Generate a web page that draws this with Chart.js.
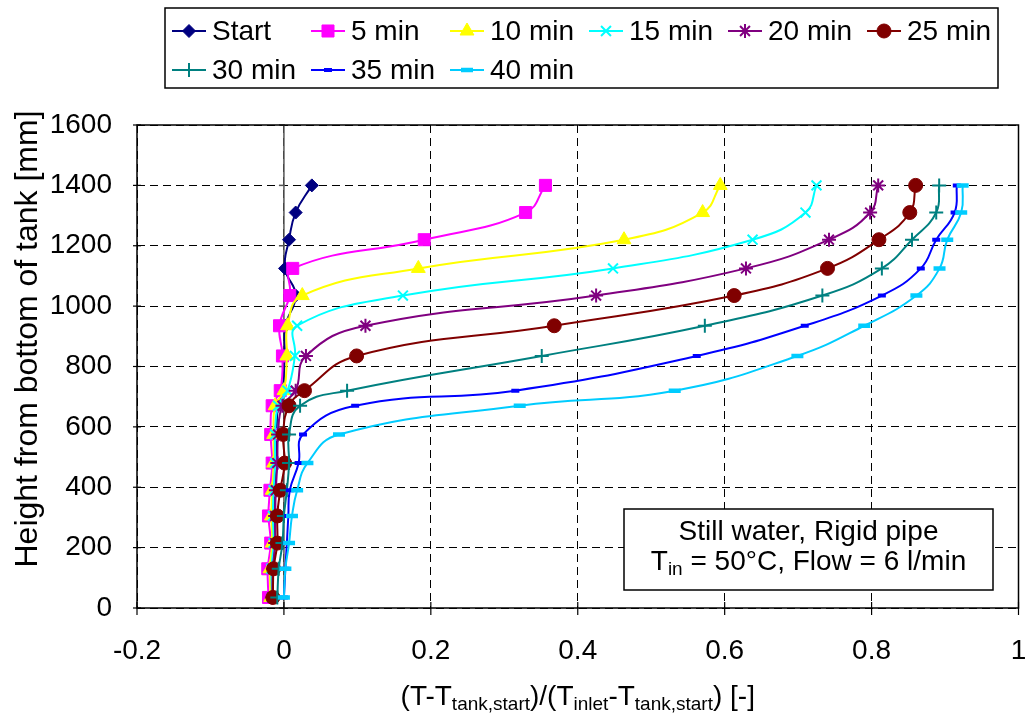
<!DOCTYPE html>
<html><head><meta charset="utf-8">
<script src="https://cdn.jsdelivr.net/npm/chart.js@4.4.1/dist/chart.umd.min.js"></script>
<style>html,body{margin:0;padding:0;background:#fff;overflow:hidden}#wrap{width:1029px;height:716px;position:relative}</style>
</head><body><div id="wrap"><canvas id="c" width="1029" height="716"></canvas></div>
<script>
// ---- data ----
const heights = [1400,1310,1220,1125,1035,935,835,720,670,575,480,390,305,215,130,35];
const seriesNames = ['Start','5 min','10 min','15 min','20 min','25 min','30 min','35 min','40 min'];
const startVals = [0.038,0.016,0.007,0.0015,0.016,0.002,0.001,-0.002,-0.008,-0.010,-0.010,-0.012,-0.012,-0.013,-0.015,-0.015];
const min5Vals  = [0.356,0.329,0.191,0.012,0.008,-0.006,-0.002,-0.005,-0.016,-0.018,-0.016,-0.019,-0.021,-0.018,-0.022,-0.021];
const min10Vals = [0.594,0.570,0.463,0.183,0.025,0.005,0.004,0.000,-0.012,-0.014,-0.014,-0.016,-0.017,-0.016,-0.019,-0.018];
const min15Vals = [0.725,0.710,0.638,0.448,0.162,0.018,0.015,0.005,-0.008,-0.012,-0.012,-0.014,-0.015,-0.014,-0.017,-0.016];
const min20Vals = [0.809,0.798,0.742,0.629,0.425,0.111,0.030,0.016,-0.002,-0.008,-0.009,-0.011,-0.012,-0.012,-0.015,-0.016];
const min25Vals = [0.860,0.852,0.810,0.740,0.613,0.368,0.099,0.028,0.007,-0.001,0.001,-0.005,-0.009,-0.009,-0.014,-0.015];
const min30Vals = [0.892,0.888,0.855,0.814,0.733,0.573,0.351,0.086,0.022,0.007,0.007,0.004,0.000,-0.002,-0.007,-0.009];
const min35Vals = [0.916,0.913,0.888,0.867,0.814,0.709,0.562,0.315,0.097,0.026,0.020,0.008,0.006,0.004,0.002,0.000];
const min40Vals = [0.924,0.922,0.903,0.8925,0.861,0.790,0.699,0.532,0.321,0.075,0.032,0.018,0.011,0.007,0.002,0.000];
const xTickVals = [-0.2,0,0.2,0.4,0.6,0.8,1];
const yTickVals = [0,200,400,600,800,1000,1200,1400,1600];
const xTitleParts = [['(T-T',0],['tank,start',1],[')/(T',0],['inlet',1],['-T',0],['tank,start',1],[') [-]',0]];
const yTitle = 'Height from bottom of tank [mm]';
const noteLine1 = [['Still water, Rigid pipe',0]];
const noteLine2 = [['T',0],['in',1],[' = 50°C, Flow = 6 l/min',0]];

// ---- styles ----
const FONT = "'Liberation Sans', Arial, sans-serif";
const allVals = [startVals,min5Vals,min10Vals,min15Vals,min20Vals,min25Vals,min30Vals,min35Vals,min40Vals];
const styles = [
  {c:'#000080', ps:'rectRot', r:6.5, bw:1},
  {c:'#FF00FF', ps:'rect', r:8.5, bw:1},
  {c:'#FFFF00', ps:'triangle', r:8, bw:1},
  {c:'#00FFFF', ps:'crossRot', r:7, bw:2},
  {c:'#800080', ps:'star', r:7, bw:2},
  {c:'#800000', ps:'circle', r:7, bw:1},
  {c:'#008080', ps:'cross', r:7, bw:2},
  {c:'#0000FF', ps:'line', r:4, bw:4},
  {c:'#00CCFF', ps:'line', r:6, bw:4.5}
];

const datasets = seriesNames.map((name,i)=>({
  label:name,
  data: allVals[i].map((v,k)=>({x:v,y:heights[k]})),
  borderColor:styles[i].c, backgroundColor:styles[i].c,
  pointBackgroundColor:styles[i].c, pointBorderColor:styles[i].c,
  pointStyle:styles[i].ps, pointRadius:styles[i].r, pointHoverRadius:styles[i].r,
  pointBorderWidth:styles[i].bw, borderWidth:2, tension:0.45, showLine:true,
  order: seriesNames.length - i
}));

function drawRich(ctx, parts, cx, baseY, size, subSize, subOff, align){
  const widths = parts.map(p=>{ctx.font=(p[1]?subSize:size)+'px '+FONT; return ctx.measureText(p[0]).width;});
  const total = widths.reduce((a,b)=>a+b,0);
  let x = align==='center' ? cx - total/2 : cx;
  ctx.textAlign='left'; ctx.textBaseline='alphabetic';
  parts.forEach((p,i)=>{ctx.font=(p[1]?subSize:size)+'px '+FONT; ctx.fillText(p[0], x, baseY + (p[1]?subOff:0)); x+=widths[i];});
}

function marker(ctx, st, x, y){
  ctx.save();
  ctx.fillStyle=st.c; ctx.strokeStyle=st.c; ctx.lineWidth=st.bw;
  if (Chart.helpers && Chart.helpers.drawPoint) {
    Chart.helpers.drawPoint(ctx,{pointStyle:st.ps,rotation:0,radius:st.r,borderWidth:st.bw},x,y);
  }
  ctx.restore();
}

const deco = {
  id:'deco',
  beforeDatasetsDraw(chart){
    const {ctx, chartArea:a, scales:{x,y}} = chart;
    ctx.save();
    const x0 = x.getPixelForValue(0);
    ctx.strokeStyle='#555'; ctx.lineWidth=1.5;
    ctx.beginPath(); ctx.moveTo(x0,a.top); ctx.lineTo(x0,a.bottom); ctx.stroke();
    yTickVals.forEach(v=>{const py=y.getPixelForValue(v); ctx.beginPath(); ctx.moveTo(x0-5,py); ctx.lineTo(x0+1,py); ctx.stroke();});
    ctx.restore();
  },
  afterDraw(chart){
    const {ctx, chartArea:a, scales:{x,y}} = chart;
    ctx.save();
    // plot border
    ctx.strokeStyle='#000'; ctx.lineWidth=1.5;
    ctx.strokeRect(a.left, a.top, a.right-a.left, a.bottom-a.top);
    // ticks
    ctx.lineWidth=1.2;
    xTickVals.forEach(v=>{const px=x.getPixelForValue(v); ctx.beginPath(); ctx.moveTo(px,a.bottom-6); ctx.lineTo(px,a.bottom+7); ctx.stroke();});
    yTickVals.forEach(v=>{const py=y.getPixelForValue(v); ctx.beginPath(); ctx.moveTo(a.left-4,py); ctx.lineTo(a.left+4,py); ctx.stroke();});
    // note box
    const bx=624, by=509, bw=369, bh=81;
    ctx.fillStyle='#fff'; ctx.fillRect(bx,by,bw,bh);
    ctx.strokeStyle='#000'; ctx.lineWidth=1.5; ctx.strokeRect(bx,by,bw,bh);
    ctx.fillStyle='#000';
    drawRich(ctx, noteLine1, bx+bw/2, 540, 28, 19, 5, 'center');
    drawRich(ctx, noteLine2, bx+bw/2, 570, 28, 19, 5, 'center');
    // x title
    drawRich(ctx, xTitleParts, (a.left+a.right)/2, 705, 28, 19, 5, 'center');
    // y title
    ctx.save();
    ctx.translate(37, 339); ctx.rotate(-Math.PI/2);
    ctx.font='32px '+FONT; ctx.textAlign='center'; ctx.textBaseline='alphabetic';
    ctx.fillText(yTitle, 0, 0);
    ctx.restore();
    // legend
    const lx=165, ly=8, lw=833, lh=80;
    ctx.fillStyle='#fff'; ctx.fillRect(lx,ly,lw,lh);
    ctx.strokeStyle='#000'; ctx.lineWidth=1.5; ctx.strokeRect(lx,ly,lw,lh);
    const cols=[189,328,467,606,745,884];
    const rows=[31,70];
    seriesNames.forEach((n,i)=>{
      const cx=cols[i%6], cy=rows[Math.floor(i/6)];
      const st=styles[i];
      ctx.strokeStyle=st.c; ctx.lineWidth=2;
      ctx.beginPath(); ctx.moveTo(cx-17,cy); ctx.lineTo(cx+17,cy); ctx.stroke();
      marker(ctx, st, cx, cy);
      ctx.fillStyle='#000'; ctx.font='28px '+FONT; ctx.textAlign='left'; ctx.textBaseline='middle';
      ctx.fillText(n, cx+23, cy+1);
    });
    ctx.restore();
  }
};

new Chart(document.getElementById('c'), {
  type:'scatter',
  data:{datasets},
  options:{
    responsive:false, animation:false, events:[],
    layout:{padding:{left:0,right:7,top:125,bottom:0}},
    plugins:{legend:{display:false}, tooltip:{enabled:false}},
    scales:{
      x:{type:'linear', min:-0.2, max:1,
        afterBuildTicks(s){ s.ticks = xTickVals.map(v=>({value:v})); },
        afterFit(s){ s.height = 108; s.paddingLeft = 0; s.paddingRight = 0; },
        ticks:{font:{family:FONT,size:28}, color:'#000', padding:26, maxRotation:0, minRotation:0, autoSkip:false,
          callback:(v)=>String(Math.round(v*10)/10)},
        grid:{color:'#000', lineWidth:1, drawTicks:false},
        border:{display:false, dash:[8,5]}
      },
      y:{type:'linear', min:0, max:1600,
        afterBuildTicks(s){ s.ticks = yTickVals.map(v=>({value:v})); },
        afterFit(s){ s.width = 137; s.paddingTop = 0; s.paddingBottom = 0; },
        ticks:{font:{family:FONT,size:28}, color:'#000', padding:25, autoSkip:false,
          callback:(v)=>String(v)},
        grid:{color:'#000', lineWidth:1, drawTicks:false},
        border:{display:false, dash:[8,5]}
      }
    }
  },
  plugins:[deco]
});
</script></body></html>
